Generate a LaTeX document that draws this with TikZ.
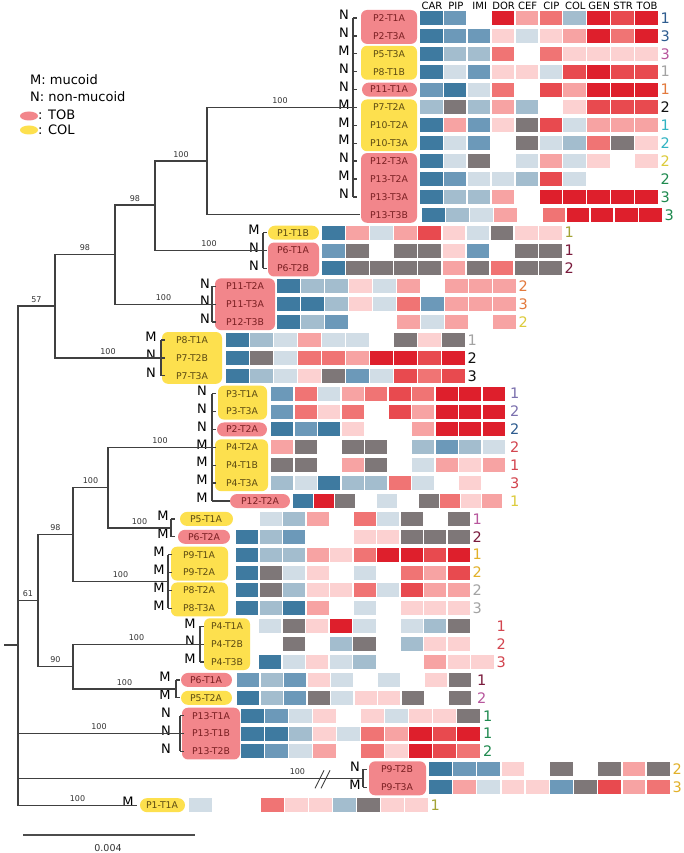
\documentclass[tikz,border=0pt]{standalone}
\usepackage{fontspec}
\setmainfont{DejaVu Sans}

% 颜色
\definecolor{hmA}{HTML}{D1DDE6}
\definecolor{hmB}{HTML}{A3BDCE}
\definecolor{hmC}{HTML}{6C99B9}
\definecolor{hmD}{HTML}{3E7AA0}
\definecolor{hmG}{HTML}{7E7778}
\definecolor{hmP}{HTML}{FCD1D1}
\definecolor{hmQ}{HTML}{F7A3A3}
\definecolor{hmR}{HTML}{F07474}
\definecolor{hmS}{HTML}{E84A4F}
\definecolor{hmT}{HTML}{DE1F2C}
\definecolor{boxpink}{HTML}{F2868B}
\definecolor{boxyel}{HTML}{FDE04E}
\definecolor{txpink}{HTML}{7A1F22}
\definecolor{txyel}{HTML}{5C4A12}
\definecolor{nP1}{HTML}{A3A335}
\definecolor{nP2}{HTML}{2E5C8F}
\definecolor{nP3}{HTML}{7B70AE}
\definecolor{nP4}{HTML}{D3454F}
\definecolor{nP5}{HTML}{B8569D}
\definecolor{nP6}{HTML}{7A1A3C}
\definecolor{nP7}{HTML}{111111}
\definecolor{nP8}{HTML}{A3A3A3}
\definecolor{nP9}{HTML}{E2B12A}
\definecolor{nP10}{HTML}{31B3C2}
\definecolor{nP11}{HTML}{E37A3D}
\definecolor{nP12}{HTML}{DCCB3B}
\definecolor{nP13}{HTML}{1F8A4F}

\newcommand{\rowy}[1]{18+17.89*#1}

% 热图一行
\newcommand{\heatrow}[7][1.5]{%
  \foreach \cl [count=\ci from 0] in {#5}{%
    \path[hm-\cl] ({#3+\ci*#4},{\rowy{#2}-7}) rectangle ++({#4-1.4},14);
  }%
  \node[numlbl,text=#7] (num#2) at ({#3+10*#4+#1},{\rowy{#2}}) {#6};
}
% 叶子
\newcommand{\leaflab}[6]{%
  \node[mnlbl] (mn#1) at (#2,{\rowy{#1}-3}) {#3};
  \node[leaflbl,text=#6] (lf#1) at (#4,{\rowy{#1}}) {#5};
}
\newcommand{\tagbox}[5]{%
  \path[fill=#5, rounded corners=6pt] (#3,{\rowy{#1}-8}) rectangle (#4,{\rowy{#2}+8});
}
\newcommand{\tagpill}[4]{%
  \path[fill=#4, rounded corners=7pt] (#2,{\rowy{#1}-7}) rectangle (#3,{\rowy{#1}+7});
}
\newcommand{\clbracket}[3]{%
  \draw[tree] (#3,{\rowy{#1}}) -- (#3,{\rowy{#2}});
  \foreach \rr in {#1,...,#2} \draw[tree] (#3,{\rowy{\rr}}) -- ++(4,0);
}

\begin{document}
\begin{tikzpicture}[x=1pt, y=-1pt,
    tree/.style={draw=black!75, line width=1.3pt},
    boot/.style={pos=0.75, above=2pt, inner sep=1pt, text=black!80, font=\fontsize{8}{9}\selectfont},
    numlbl/.style={anchor=west, inner sep=0pt, font=\fontsize{14.5}{15}\selectfont},
    mnlbl/.style={inner sep=0pt, font=\fontsize{13}{14}\selectfont},
    leaflbl/.style={inner sep=0pt, font=\fontsize{9.3}{10}\selectfont},
    hdr/.style={inner sep=0pt, font=\fontsize{10}{11}\selectfont},
    leg/.style={anchor=west, inner sep=0pt, font=\fontsize{13}{14}\selectfont},
    hm-w/.style={}, hm-a/.style={fill=hmA}, hm-b/.style={fill=hmB},
    hm-c/.style={fill=hmC}, hm-d/.style={fill=hmD}, hm-g/.style={fill=hmG},
    hm-p/.style={fill=hmP}, hm-q/.style={fill=hmQ}, hm-r/.style={fill=hmR},
    hm-s/.style={fill=hmS}, hm-t/.style={fill=hmT}]
  \useasboundingbox[fill=white] (0,0) rectangle (684,853);

  % 图例
  \node[leg] (legM) at (30,80) {M: mucoid};
  \node[leg] (legN) at (30,97) {N: non-mucoid};
  \path[fill=boxpink] (29,116) ellipse [x radius=9pt, y radius=4.5pt];
  \node[leg] (legT) at (38,115) {: TOB};
  \path[fill=boxyel] (29,130) ellipse [x radius=9pt, y radius=4.5pt];
  \node[leg] (legC) at (38,130) {: COL};

  % 表头
  \foreach \h [count=\ci from 0] in {CAR,PIP,IMI,DOR,CEF,CIP,COL,GEN,STR,TOB}
    \node[hdr] (h\ci) at ({420+23.9*(\ci+0.5)},6) {\h};

  % 标签框
  \tagbox{0}{1}{361}{417}{boxpink}
  \tagbox{2}{3}{361}{417}{boxyel}
  \tagpill{4}{362}{417}{boxpink}
  \tagbox{5}{7}{361}{417}{boxyel}
  \tagbox{8}{11}{361}{417}{boxpink}
  \tagpill{12}{268}{319}{boxyel}
  \tagbox{13}{14}{268}{319}{boxpink}
  \tagbox{15}{17}{215}{275}{boxpink}
  \tagbox{18}{20}{162}{222}{boxyel}
  \tagbox{21}{22}{218}{267}{boxyel}
  \tagpill{23}{217}{267}{boxpink}
  \tagbox{24}{26}{215}{268}{boxyel}
  \tagpill{27}{230}{290}{boxpink}
  \tagpill{28}{180}{233}{boxyel}
  \tagpill{29}{178}{230}{boxpink}
  \tagbox{30}{31}{171}{228}{boxyel}
  \tagbox{32}{33}{171}{228}{boxyel}
  \tagbox{34}{36}{204}{250}{boxyel}
  \tagpill{37}{181}{232}{boxpink}
  \tagpill{38}{181}{232}{boxyel}
  \tagbox{39}{41}{182}{240}{boxpink}
  \tagbox{42}{43}{369}{426}{boxpink}
  \tagpill{44}{140}{185}{boxyel}

  % 叶子
  \leaflab{0}{344}{N}{389}{P2-T1A}{txpink}
  \leaflab{1}{344}{N}{389}{P2-T3A}{txpink}
  \leaflab{2}{344}{M}{389}{P5-T3A}{txyel}
  \leaflab{3}{344}{N}{389}{P8-T1B}{txyel}
  \leaflab{4}{344}{N}{389}{P11-T1A}{txpink}
  \leaflab{5}{344}{M}{389}{P7-T2A}{txyel}
  \leaflab{6}{344}{M}{389}{P10-T2A}{txyel}
  \leaflab{7}{344}{M}{389}{P10-T3A}{txyel}
  \leaflab{8}{344}{N}{389}{P12-T3A}{txpink}
  \leaflab{9}{344}{M}{389}{P13-T2A}{txpink}
  \leaflab{10}{344}{N}{389}{P13-T3A}{txpink}
  \leaflab{11}{344}{}{389}{P13-T3B}{txpink}
  \leaflab{12}{254}{M}{293}{P1-T1B}{txyel}
  \leaflab{13}{254}{N}{293}{P6-T1A}{txpink}
  \leaflab{14}{254}{N}{293}{P6-T2B}{txpink}
  \leaflab{15}{205}{N}{245}{P11-T2A}{txpink}
  \leaflab{16}{205}{N}{245}{P11-T3A}{txpink}
  \leaflab{17}{205}{N}{245}{P12-T3B}{txpink}
  \leaflab{18}{151}{M}{192}{P8-T1A}{txyel}
  \leaflab{19}{151}{N}{192}{P7-T2B}{txyel}
  \leaflab{20}{151}{N}{192}{P7-T3A}{txyel}
  \leaflab{21}{202}{N}{242}{P3-T1A}{txyel}
  \leaflab{22}{202}{N}{242}{P3-T3A}{txyel}
  \leaflab{23}{202}{N}{242}{P2-T2A}{txpink}
  \leaflab{24}{202}{M}{242}{P4-T2A}{txyel}
  \leaflab{25}{202}{M}{242}{P4-T1B}{txyel}
  \leaflab{26}{202}{M}{242}{P4-T3A}{txyel}
  \leaflab{27}{202}{M}{260}{P12-T2A}{txpink}
  \leaflab{28}{163}{M}{206}{P5-T1A}{txyel}
  \leaflab{29}{163}{M}{204}{P6-T2A}{txpink}
  \leaflab{30}{159}{M}{199}{P9-T1A}{txyel}
  \leaflab{31}{159}{M}{199}{P9-T2A}{txyel}
  \leaflab{32}{159}{M}{199}{P8-T2A}{txyel}
  \leaflab{33}{159}{M}{199}{P8-T3A}{txyel}
  \leaflab{34}{190}{M}{227}{P4-T1A}{txyel}
  \leaflab{35}{190}{N}{227}{P4-T2B}{txyel}
  \leaflab{36}{190}{M}{227}{P4-T3B}{txyel}
  \leaflab{37}{165}{M}{206}{P6-T1A}{txpink}
  \leaflab{38}{165}{M}{206}{P5-T2A}{txyel}
  \leaflab{39}{166}{N}{211}{P13-T1A}{txpink}
  \leaflab{40}{166}{N}{211}{P13-T1B}{txpink}
  \leaflab{41}{166}{N}{211}{P13-T2B}{txpink}
  \leaflab{42}{355}{N}{397}{P9-T2B}{txpink}
  \leaflab{43}{355}{M}{397}{P9-T3A}{txpink}
  \leaflab{44}{128}{M}{162}{P1-T1A}{txyel}

  % 热图
  \heatrow{0}{420}{23.9}{d,c,w,t,q,r,b,t,s,t}{1}{nP2}
  \heatrow{1}{420}{23.9}{d,c,c,p,a,p,q,t,r,t}{3}{nP2}
  \heatrow{2}{420}{23.9}{d,b,b,r,w,r,p,p,p,p}{3}{nP5}
  \heatrow{3}{420}{23.9}{d,a,c,p,p,a,s,t,s,s}{1}{nP8}
  \heatrow{4}{420}{23.9}{c,d,a,r,w,s,q,t,t,t}{1}{nP11}
  \heatrow{5}{420}{23.9}{b,g,b,q,b,w,p,s,s,s}{2}{nP7}
  \heatrow{6}{420}{23.9}{d,q,c,p,g,s,a,q,q,q}{1}{nP10}
  \heatrow{7}{420}{23.9}{d,a,c,w,g,a,b,r,g,p}{2}{nP10}
  \heatrow{8}{420}{23.9}{d,a,g,w,a,q,a,p,w,p}{2}{nP12}
  \heatrow{9}{420}{23.9}{d,c,a,a,b,s,a,w,w,w}{2}{nP13}
  \heatrow{10}{420}{23.9}{d,b,b,q,w,t,t,t,t,t}{3}{nP13}
  \heatrow{11}{422}{24.1}{d,b,a,q,w,r,t,t,t,t}{3}{nP13}
  \heatrow{12}{322}{24.1}{d,q,a,q,s,p,a,g,p,p}{1}{nP1}
  \heatrow{13}{322}{24.1}{c,g,w,g,g,p,c,w,g,g}{1}{nP6}
  \heatrow{14}{322}{24.1}{d,g,g,g,g,q,g,r,g,g}{2}{nP6}
  \heatrow{15}{277}{24}{d,b,b,p,a,q,w,q,q,q}{2}{nP11}
  \heatrow{16}{277}{24}{d,d,b,p,a,r,c,q,q,q}{3}{nP11}
  \heatrow{17}{277}{24}{d,b,c,w,w,q,a,q,w,q}{2}{nP12}
  \heatrow{18}{226}{24}{d,b,a,q,a,a,w,g,p,g}{1}{nP8}
  \heatrow{19}{226}{24}{d,g,a,r,r,q,t,t,s,t}{2}{nP7}
  \heatrow{20}{226}{24}{d,b,a,p,g,c,a,s,r,s}{3}{nP7}
  \heatrow[4]{21}{271}{23.5}{c,r,a,q,r,s,r,t,t,t}{1}{nP3}
  \heatrow[4]{22}{271}{23.5}{c,r,p,r,w,s,q,t,t,t}{2}{nP3}
  \heatrow[4]{23}{271}{23.5}{d,c,d,p,w,w,q,t,t,t}{2}{nP2}
  \heatrow[4]{24}{271}{23.5}{q,g,w,g,g,w,b,c,b,a}{2}{nP4}
  \heatrow[4]{25}{271}{23.5}{g,g,w,q,g,w,a,q,p,q}{1}{nP4}
  \heatrow[4]{26}{271}{23.5}{b,a,d,b,b,r,a,w,p,w}{3}{nP4}
  \heatrow[7]{27}{293}{21}{d,t,g,w,a,w,g,r,p,q}{1}{nP12}
  \heatrow{28}{236}{23.5}{w,a,b,q,w,r,a,g,w,g}{1}{nP5}
  \heatrow{29}{236}{23.5}{d,b,c,w,w,p,p,g,g,g}{2}{nP6}
  \heatrow{30}{236}{23.5}{d,b,b,q,p,r,t,t,s,t}{1}{nP9}
  \heatrow{31}{236}{23.5}{d,g,a,p,w,a,w,r,q,s}{2}{nP9}
  \heatrow{32}{236}{23.5}{d,g,b,p,p,r,a,s,q,q}{2}{nP8}
  \heatrow{33}{236}{23.5}{d,b,d,q,w,a,w,p,p,p}{3}{nP8}
  \heatrow{34}{259}{23.6}{a,g,p,t,a,w,a,b,g,w}{1}{nP4}
  \heatrow{35}{259}{23.6}{w,g,w,b,g,w,b,p,p,w}{2}{nP4}
  \heatrow{36}{259}{23.6}{d,a,p,a,b,w,w,q,p,p}{3}{nP4}
  \heatrow[5]{37}{237}{23.5}{c,b,c,p,a,w,a,w,p,g}{1}{nP6}
  \heatrow[5]{38}{237}{23.5}{d,b,c,g,a,p,p,g,w,g}{2}{nP5}
  \heatrow[2]{39}{241}{24}{d,c,a,p,w,p,a,p,p,g}{1}{nP13}
  \heatrow[2]{40}{241}{24}{d,d,b,p,a,r,q,t,s,t}{1}{nP13}
  \heatrow[2]{41}{241}{24}{d,c,a,q,w,r,p,t,s,r}{2}{nP13}
  \heatrow{42}{429}{24.2}{d,c,c,p,w,g,w,g,q,g}{2}{nP9}
  \heatrow{43}{429}{24.2}{d,q,a,p,p,c,g,s,q,r}{3}{nP9}
  \heatrow{44}{189}{24}{a,w,w,r,p,p,b,g,p,p}{1}{nP1}

  % 分支括号
  \clbracket{0}{10}{353}
  \clbracket{12}{14}{263}
  \clbracket{15}{17}{212}
  \clbracket{18}{20}{161}
  \clbracket{21}{27}{212}
  \draw[tree] (212,{\rowy{27}}) -- (230,{\rowy{27}});
  \clbracket{28}{29}{171}
  \clbracket{30}{33}{168}
  \clbracket{34}{36}{200}
  \clbracket{37}{38}{176}
  \clbracket{39}{41}{180}
  \clbracket{42}{43}{363}

  % 树
  \coordinate (stub) at (4,645);
  \coordinate (root) at (18,645);
  \coordinate (n57) at (55,306);
  \coordinate (n98a) at (115,254.6);
  \coordinate (n98b) at (155,205);
  \coordinate (n100a) at (207,161);
  \coordinate (g1) at (353,{\rowy{5}});
  \coordinate (e2) at (360,{\rowy{11}});
  \coordinate (g2) at (263,{\rowy{13}});
  \coordinate (g3) at (212,{\rowy{16}});
  \coordinate (g4) at (161,{\rowy{19}});
  \coordinate (n61) at (38,600.5);
  \coordinate (n98c) at (73,534.6);
  \coordinate (n100c) at (108,487.6);
  \coordinate (g5) at (212,{\rowy{24}});
  \coordinate (g6) at (171,{\rowy{28.5}});
  \coordinate (g7) at (168,{\rowy{31.5}});
  \coordinate (n90) at (73,666.5);
  \coordinate (g8) at (200,{\rowy{35}});
  \coordinate (g9) at (176,{\rowy{37.5}});
  \coordinate (g13) at (180,{\rowy{40}});
  \coordinate (g9p) at (363,{\rowy{42.5}});
  \coordinate (e1) at (137,{\rowy{44}});

  \draw[tree] (stub) -- (root);
  \draw[tree] (root) |- node[boot] {57} (n57);
  \draw[tree] (n57) |- node[boot] {98} (n98a);
  \draw[tree] (n98a) |- node[boot] {98} (n98b);
  \draw[tree] (n98b) |- node[boot] {100} (n100a);
  \draw[tree] (n100a) |- node[boot] {100} (g1);
  \draw[tree] (n100a) |- (e2);
  \draw[tree] (n98b) |- node[boot] {100} (g2);
  \draw[tree] (n98a) |- node[boot] {100} (g3);
  \draw[tree] (n57) |- node[boot] {100} (g4);
  \draw[tree] (root) |- node[boot] {61} (n61);
  \draw[tree] (n61) |- node[boot] {98} (n98c);
  \draw[tree] (n98c) |- node[boot] {100} (n100c);
  \draw[tree] (n100c) |- node[boot] {100} (g5);
  \draw[tree] (n100c) |- node[boot] {100} (g6);
  \draw[tree] (n98c) |- node[boot] {100} (g7);
  \draw[tree] (n61) |- node[boot] {90} (n90);
  \draw[tree] (n90) |- node[boot] {100} (g8);
  \draw[tree] (n90) |- node[boot] {100} (g9);
  \draw[tree] (root) |- node[boot] {100} (g13);
  \draw[tree] (root) |- node[boot, pos=0.905] {100} (g9p);
  \draw[tree] (root) |- node[boot] {100} (e1);

  % 断开标记
  \coordinate (brk) at (321,{\rowy{42.5}});
  \draw[tree, line width=0.9pt] ([shift={(-6,10)}]brk) -- ++(9,-18);
  \draw[tree, line width=0.9pt] ([shift={(0,10)}]brk) -- ++(9,-18);

  % 比例尺
  \coordinate (sb0) at (23,835);
  \coordinate (sb1) at (195,835);
  \draw[draw=black!70, line width=1.3pt] (sb0) -- (sb1);
  \node[inner sep=0pt, font=\fontsize{9.5}{10}\selectfont, text=black!80] (sblab) at (108,848) {0.004};
\end{tikzpicture}
\end{document}
